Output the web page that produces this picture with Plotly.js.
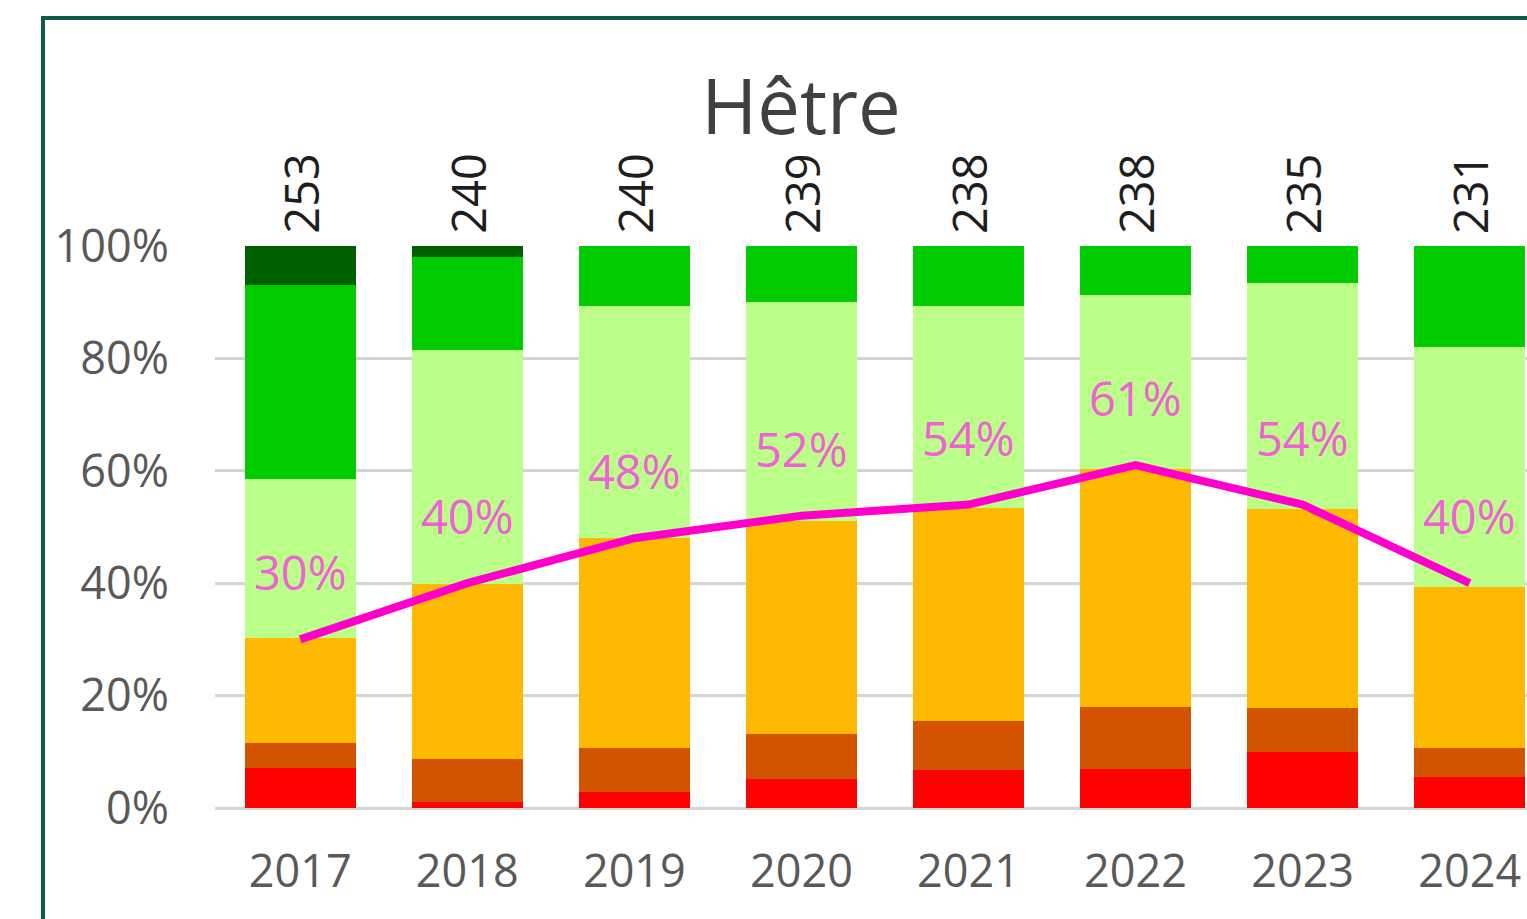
<!DOCTYPE html>
<html>
<head>
<meta charset="utf-8">
<script src="https://cdn.plot.ly/plotly-3.0.1.min.js"></script>
<style>
  html, body { margin: 0; padding: 0; overflow: hidden; background: #fff; }
  #graph { position: absolute; left: 0; top: 0; width: 1527px; height: 919px; }
  #frame { position: absolute; left: 41px; top: 16px; width: 2000px; height: 2000px;
           border: 4px solid #0b5c49; pointer-events: none; }
</style>
</head>
<body>
<div id="graph"></div>
<div id="frame"></div>
<script>
const years = ['2017', '2018', '2019', '2020', '2021', '2022', '2023', '2024'];
const counts = [253, 240, 240, 239, 238, 238, 235, 231];
const red = [7.2, 1.1, 2.8, 5.2, 6.8, 7.0, 9.9, 5.6];
const darkOrange = [4.4, 7.6, 7.9, 8.0, 8.6, 11.0, 7.9, 5.1];
const orange = [18.7, 31.2, 37.3, 37.8, 38.0, 42.4, 35.4, 28.6];
const lightGreen = [28.2, 41.6, 41.4, 39.1, 35.9, 30.9, 40.2, 42.7];
const green = [34.6, 16.6, 10.6, 9.9, 10.7, 8.7, 6.6, 18.0];
const darkGreen = [6.9, 1.9, 0, 0, 0, 0, 0, 0];
const share = [30, 40, 48, 52, 54, 61, 54, 40];
const yTicks = [0, 20, 40, 60, 80, 100];
const yTickText = ['0%', '20%', '40%', '60%', '80%', '100%'];

const font = 'Open Sans';

function barTrace(vals, color) {
    return {
        x: years,
        y: vals,
        type: 'bar',
        marker: { color: color, line: { width: 0 } },
        hoverinfo: 'skip'
    };
}

let data = [
    barTrace(red, '#ff0000'),
    barTrace(darkOrange, '#d35400'),
    barTrace(orange, '#ffb900'),
    barTrace(lightGreen, '#bbff8a'),
    barTrace(green, '#00cc00'),
    barTrace(darkGreen, '#006000'),
    {
        x: years,
        y: share,
        type: 'scatter',
        mode: 'lines',
        line: { color: '#ff00cc', width: 8 },
        hoverinfo: 'skip'
    }
];

let annotations = [];
for (let i = 0; i < years.length; i++) {
    // sample counts above the bars
    annotations.push({
        x: i, y: 100, xref: 'x', yref: 'y',
        text: String(counts[i]), showarrow: false,
        textangle: -90, yanchor: 'bottom', yshift: 10,
        font: { family: font, size: 47, color: '#1e1e1e' }
    });
    // share labels over the line
    annotations.push({
        x: i, y: share[i], xref: 'x', yref: 'y',
        text: share[i] + '%', showarrow: false,
        yanchor: 'middle', yshift: 67,
        font: { family: font, size: 47, color: '#f062d4' }
    });
}

let layout = {
    width: 1527,
    height: 919,
    autosize: false,
    margin: { l: 215, r: 0, t: 246, b: 111 },
    paper_bgcolor: 'rgba(0,0,0,0)',
    plot_bgcolor: 'rgba(0,0,0,0)',
    barmode: 'stack',
    bargap: 0.335,
    showlegend: false,
    title: {
        text: 'Hêtre',
        x: 801 / 1527, xref: 'container', xanchor: 'center',
        y: 1 - 107 / 919, yref: 'container', yanchor: 'middle',
        font: { family: font, size: 76, color: '#404040' }
    },
    xaxis: {
        type: 'category',
        range: [-0.51, 7.343],
        showgrid: false,
        zeroline: false,
        showline: false,
        ticks: 'outside', ticklen: 24, tickcolor: 'rgba(0,0,0,0)',
        tickfont: { family: font, size: 45, color: '#595959' }
    },
    yaxis: {
        range: [0, 100],
        tickmode: 'array',
        tickvals: yTicks,
        ticktext: yTickText,
        showgrid: true,
        gridcolor: '#d4d4d4',
        gridwidth: 3,
        zeroline: true,
        zerolinecolor: '#d4d4d4',
        zerolinewidth: 3,
        showline: false,
        ticks: 'outside', ticklen: 36, tickcolor: 'rgba(0,0,0,0)',
        tickfont: { family: font, size: 45, color: '#595959' }
    },
    annotations: annotations
};

Plotly.newPlot('graph', data, layout, { staticPlot: true, displayModeBar: false });
</script>
</body>
</html>
